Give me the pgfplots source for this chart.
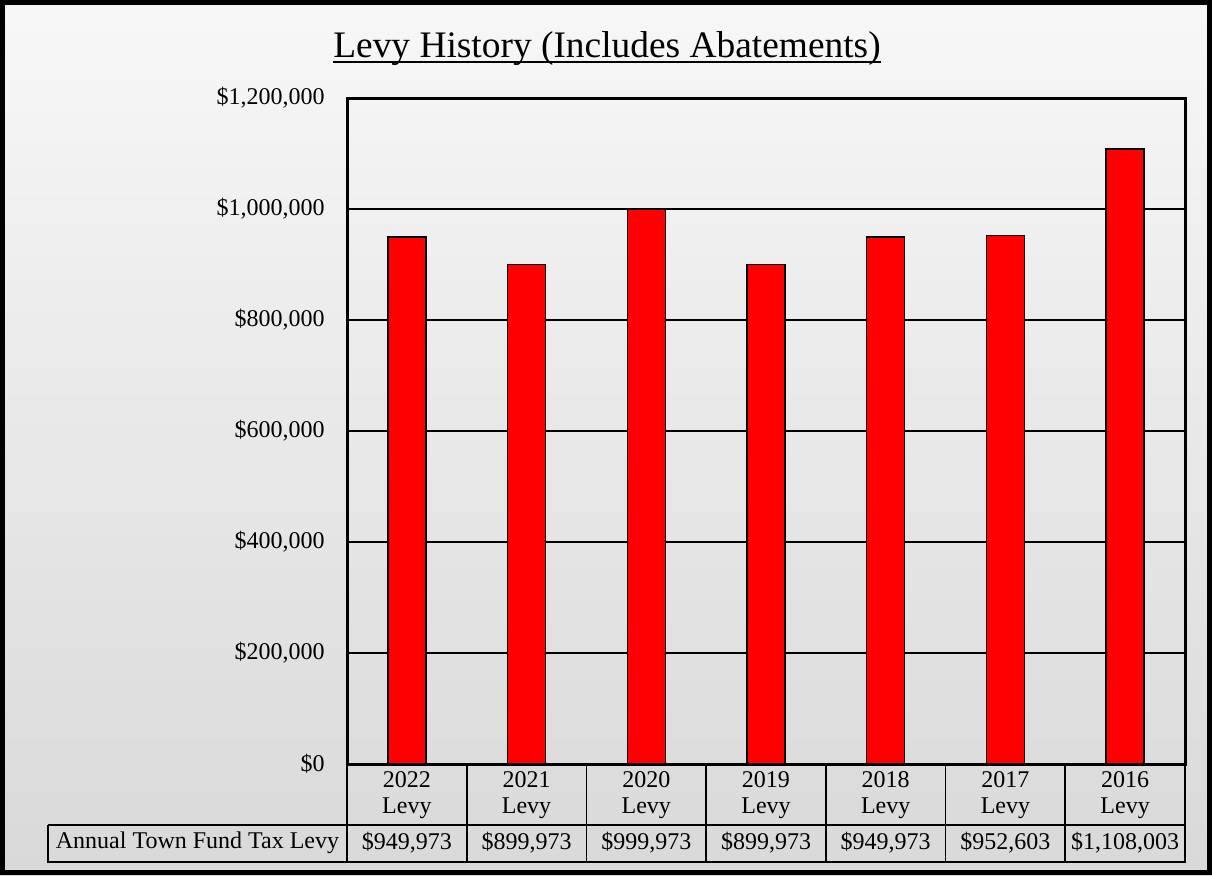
\documentclass[border=0pt]{standalone}
\usepackage{fontspec}
\setmainfont{Liberation Serif}
\usepackage{pgfplots}
\pgfplotsset{compat=1.18}
\begin{document}
\begin{tikzpicture}[x=0.5pt,y=-0.5pt]
\useasboundingbox (0,0) rectangle (1212,875);
\shade[top color=black!3, bottom color=black!15] (0,0) rectangle (1212,875);
\begin{axis}[
  at={(173.5pt,-382pt)}, anchor=south west,
  scale only axis, width=419pt, height=333pt,
  xmin=-0.5, xmax=6.5, ymin=0, ymax=1200000,
  ybar, bar width=19pt,
  axis line style={line width=1.4pt},
  scaled y ticks=false,
  ytick={0,200000,400000,600000,800000,1000000,1200000},
  yticklabels={{\$0},{\$200,000},{\$400,000},{\$600,000},{\$800,000},{\$1,000,000},{\$1,200,000}},
  yticklabel style={anchor=east, inner sep=0pt, xshift=-11pt, font=\fontsize{12}{14}\selectfont},
  ymajorgrids, grid style={black, line width=0.6pt},
  xtick={0,1,2,3,4,5,6},
  xticklabels={{2022\\Levy},{2021\\Levy},{2020\\Levy},{2019\\Levy},{2018\\Levy},{2017\\Levy},{2016\\Levy}},
  xticklabel style={anchor=center, inner sep=0pt, yshift=-15.5pt, align=center, font=\fontsize{12}{13}\selectfont},
  major tick length=0pt,
  clip=false,
]
\addplot[fill=red, draw=black, line width=0.75pt] coordinates {
  (0,949973) (1,899973) (2,999973) (3,899973) (4,949973) (5,952603) (6,1108003)};
\end{axis}
% plot area border
\draw[line width=1.5pt, line join=miter] (347,764) -- (347,98) -- (1185,98) -- (1185,764) -- cycle;
% data table
\foreach \v [count=\k from 0] in {{\$949,973},{\$899,973},{\$999,973},{\$899,973},{\$949,973},{\$952,603},{\$1,108,003}}
  \node[font=\fontsize{12}{14}\selectfont] at ({347+(\k+0.5)*119.714},843) {\v};
\node[font=\fontsize{12}{14}\selectfont] at (197.5,843) {Annual Town Fund Tax Levy};
\foreach \k in {1,...,6}
  \draw[line width=0.8pt] ({347+\k*119.714},764) -- ({347+\k*119.714},862);
\draw[line width=0.8pt] (347,764) -- (347,825);
\draw[line width=0.8pt] (48,825) -- (1185,825);
\draw[line width=0.8pt] (48,825) -- (48,862) -- (347,862);
\draw[line width=0.8pt] (347,825) -- (347,862);
\draw[line width=1.2pt] (1185,764) -- (1185,862);
\draw[line width=1.2pt] (347,862) -- (1185.6,862);
% title
\node[anchor=base, inner sep=0pt, font=\fontsize{18.7}{22}\selectfont] (T) at (607,57) {Levy History (Includes Abatements)};
\draw[line width=0.8pt] ([yshift=-2.5pt]T.base west) -- ([yshift=-2.5pt]T.base east);
% frame
\draw[line width=2.5pt] (2.5,2.5) rectangle (1209.5,872.5);
\end{tikzpicture}
\end{document}
